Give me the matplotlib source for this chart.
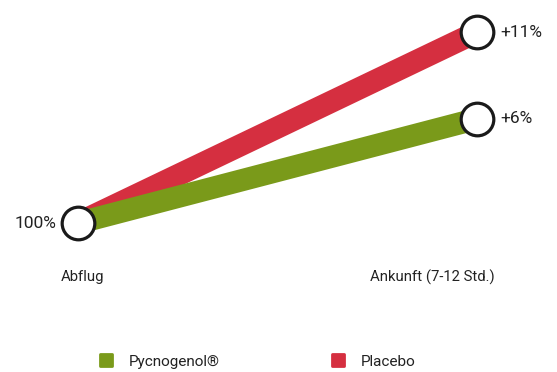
import matplotlib.pyplot as plt
from matplotlib.lines import Line2D
from matplotlib.markers import MarkerStyle

plt.rcParams['font.family'] = ['Roboto', 'DejaVu Sans']

stages = ['Abflug', 'Ankunft (7-12 Std.)']
placebo = [100, 111]
pycnogenol = [100, 106]
start_label = '100%'
end_labels = ['+11%', '+6%']
green = '#7a9a1a'
red = '#d52f40'
ink = '#222222'

fig = plt.figure(figsize=(5.57, 3.72), dpi=100)
ax = fig.add_axes([78/557, 149/372, 399/557, 191/372])

x = [0, 1]
ax.plot(x, placebo, color=red, lw=16, solid_capstyle='round', zorder=2, clip_on=False)
ax.plot(x, pycnogenol, color=green, lw=16, solid_capstyle='round', zorder=3, clip_on=False)

# open circles at the end points
ax.plot([0, 1, 1], [placebo[0], placebo[1], pycnogenol[1]], 'o', ms=23.5,
        mfc='white', mec='#1a1a1a', mew=2.3, zorder=4, clip_on=False)

ax.text(-0.055, placebo[0], start_label, ha='right', va='center', fontsize=12.5, color=ink)
ax.text(1.058, placebo[1], end_labels[0], ha='left', va='center', fontsize=12.5, color=ink)
ax.text(1.058, pycnogenol[1], end_labels[1], ha='left', va='center', fontsize=12.5, color=ink)

ax.text(0.01, -0.285, stages[0], transform=ax.transAxes, ha='center', va='center',
        fontsize=10.7, color=ink)
ax.text(0.888, -0.285, stages[1], transform=ax.transAxes, ha='center', va='center',
        fontsize=10.7, color=ink)

ax.set_xlim(0, 1)
ax.set_ylim(100, 111)
ax.axis('off')

square = MarkerStyle('s', joinstyle='round')
handles = [Line2D([], [], ls='none', marker=square, ms=8, mew=2, color=green, mec=green),
           Line2D([], [], ls='none', marker=square, ms=8, mew=2, color=red, mec=red)]
fig.legend(handles, ['Pycnogenol®', 'Placebo'], loc='center left',
           bbox_to_anchor=(98.5/557, 0.028), borderpad=0, borderaxespad=0,
           ncol=2, frameon=False, fontsize=11, handlelength=1, handletextpad=0.97,
           columnspacing=7.25, labelcolor=ink)

fig.savefig('out.png', dpi=100)
plt.close(fig)
